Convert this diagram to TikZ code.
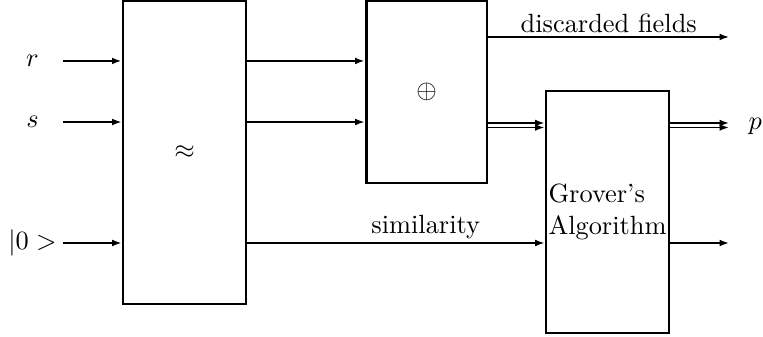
\documentclass[tikz,border=0pt]{standalone}
\usetikzlibrary{arrows.meta}
\begin{document}
\begin{tikzpicture}[
 box/.style={draw,rectangle,line width=1.1pt,inner sep=0pt},
 arr/.style={-{Latex[length=3.6pt,width=2.6pt]},line width=0.6pt},
 thickarr/.style={arr,line width=1.1pt},
 lbl/.style={above,inner sep=1.2pt}]
 \clip (0,0) rectangle (10.173,4.48);
 % blocks
 \node[box,minimum width=1.64cm,minimum height=4.048cm] (approx) at (2.46,2.451) {$\approx$};
 \node[box,minimum width=1.613cm,minimum height=2.435cm] (xor) at (5.687,3.257) {$\oplus$};
 \node[box,minimum width=1.64cm,minimum height=3.227cm] (grover) at (8.1,1.653) {};
 \node[align=left,inner sep=0.5pt] (gtext) at (grover.center) {Grover's\\Algorithm};
 % inputs
 \node (r) at (0.433,3.667) {$r$};
 \node (s) at (0.433,2.853) {$s$};
 \node (zero) at (0.433,1.24) {$|0>$};
 \coordinate (rin) at (0.84,3.667);
 \coordinate (sin) at (0.84,2.853);
 \coordinate (zin) at (0.84,1.24);
 \draw[thickarr] (rin) -- (rin -| approx.west);
 \draw[arr] (sin) -- (sin -| approx.west);
 \draw[arr] (zin) -- (zin -| approx.west);
 % approx to xor
 \draw[thickarr] (approx.east |- rin) -- (xor.west |- rin);
 \draw[arr] (approx.east |- sin) -- (xor.west |- sin);
 \draw[arr] (approx.east |- zin) -- node[lbl,pos=0.6] {similarity} (grover.west |- zin);
 % xor outputs
 \coordinate (dout) at (9.72,3.987);
 \draw[arr] (xor.east |- dout) -- node[lbl] {discarded fields} (dout);
 \coordinate (hi) at (9.72,2.84);
 \coordinate (lo) at (9.72,2.78);
 \draw[arr] (xor.east |- hi) -- (grover.west |- hi);
 \draw[arr] (xor.east |- lo) -- (grover.west |- lo);
 % grover outputs
 \node (p) at (10.07,2.8) {$p$};
 \coordinate (zout) at (9.72,1.24);
 \draw[arr] (grover.east |- hi) -- (hi);
 \draw[arr] (grover.east |- lo) -- (lo);
 \draw[arr] (grover.east |- zout) -- (zout);
\end{tikzpicture}
\end{document}
